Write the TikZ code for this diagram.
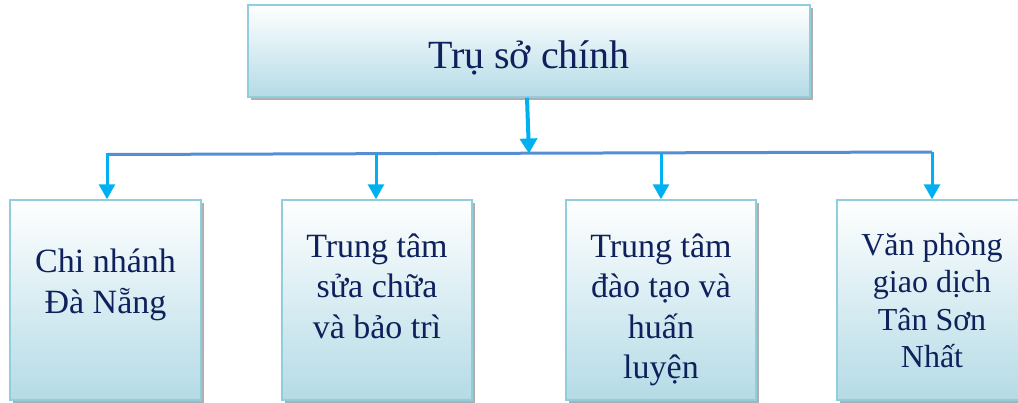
\documentclass[tikz,border=0pt]{standalone}
\usepackage{fontspec}
\setmainfont{Liberation Serif}
\usetikzlibrary{shadows,arrows.meta}
\definecolor{boxbot}{RGB}{180,219,230}
\definecolor{boxline}{RGB}{146,205,221}
\definecolor{txt}{RGB}{14,33,92}
\definecolor{bus}{RGB}{85,142,213}
\definecolor{arr}{RGB}{0,176,240}
\tikzset{
  orgbox/.style={draw=boxline, line width=1.5pt, shading=axis, top color=white, bottom color=boxbot,
    inner sep=0pt, drop shadow={shadow xshift=3pt, shadow yshift=-3pt, fill=black!35, opacity=0.9}},
  lbl/.style={anchor=base, inner sep=0pt, text=txt},
  conn/.style={draw=arr, line width=3pt, -{Triangle[length=15pt,width=16pt]}},
}
\begin{document}
\begin{tikzpicture}[x=1pt,y=-1pt]
\useasboundingbox (0,0) rectangle (1018,402);
% boxes
\node[orgbox, minimum width=562pt, minimum height=92pt] (top) at (529,51) {};
\node[orgbox, minimum width=191pt, minimum height=200pt] (b1) at (105.5,300) {};
\node[orgbox, minimum width=190pt, minimum height=200pt] (b2) at (377,300) {};
\node[orgbox, minimum width=190pt, minimum height=200pt] (b3) at (661,300) {};
\node[orgbox, minimum width=190pt, minimum height=200pt] (b4) at (932,300) {};
% labels
\node[lbl, font=\fontsize{40}{48}\selectfont] (t0) at (529,68) {Trụ sở chính};
\node[lbl, font=\fontsize{34}{41}\selectfont] (t1) at (105.5,272) {\begin{tabular}[t]{@{}c@{}}Chi nhánh\\Đà Nẵng\end{tabular}};
\node[lbl, font=\fontsize{34}{40.5}\selectfont] (t2) at (377,257) {\begin{tabular}[t]{@{}c@{}}Trung tâm\\sửa chữa\\và bảo trì\end{tabular}};
\node[lbl, font=\fontsize{34}{40.5}\selectfont] (t3) at (661,257) {\begin{tabular}[t]{@{}c@{}}Trung tâm\\đào tạo và\\huấn\\luyện\end{tabular}};
\node[lbl, font=\fontsize{32}{37.5}\selectfont] (t4) at (932,255) {\begin{tabular}[t]{@{}c@{}}Văn phòng\\giao dịch\\Tân Sơn\\Nhất\end{tabular}};
% bus
\coordinate (busL) at (107,154.5);
\coordinate (busR) at (932,152);
\coordinate (busM) at (529,153.5);
\coordinate (topOut) at (527,97);
\coordinate (j2) at (376,153.6);
\coordinate (j3) at (661,152.9);
\draw[draw=bus, line width=3pt] (busL) -- (busR);
\draw[conn, line width=4pt, -{Triangle[length=15pt,width=17pt]}] (top.south -| topOut) -- (busM);
\draw[conn] ([yshift=1.5pt]busL) -- (b1.north -| busL);
\draw[conn] (j2) -- (b2.north -| j2);
\draw[conn] (j3) -- (b3.north -| j3);
\draw[conn] (busR) -- (b4.north -| busR);
\end{tikzpicture}
\end{document}
